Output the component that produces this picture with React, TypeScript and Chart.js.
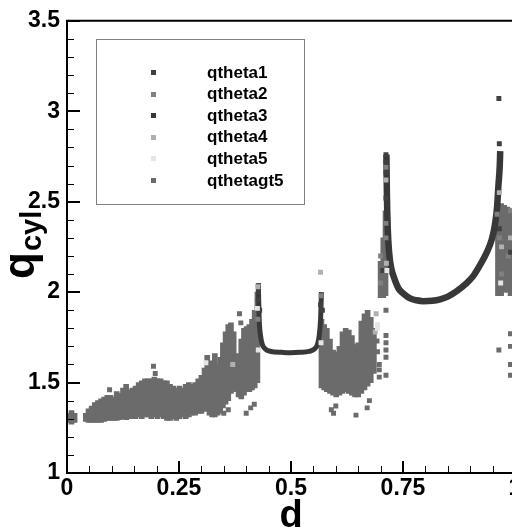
import React, { useEffect, useRef } from "react";
import { Chart, registerables } from "chart.js";

Chart.register(...registerables);

// ---- axis ticks ----
const xMajorTicks = [0, 0.25, 0.5, 0.75, 1];
const xMinorTicks = [0.05, 0.1, 0.15, 0.2, 0.3, 0.35, 0.4, 0.45, 0.55, 0.6, 0.65, 0.7, 0.8, 0.85, 0.9, 0.95];
const yMajorTicks = [1, 1.5, 2, 2.5, 3, 3.5];
const yMinorTicks = [1.1, 1.2, 1.3, 1.4, 1.6, 1.7, 1.8, 1.9, 2.1, 2.2, 2.3, 2.4, 2.6, 2.7, 2.8, 2.9, 3.1, 3.2, 3.3, 3.4];

// ---- legend ----
const seriesNames = ["qtheta1", "qtheta2", "qtheta3", "qtheta4", "qtheta5", "qthetagt5"];
const seriesColors = ["#404040", "#808080", "#383838", "#b0b0b0", "#e6e6e6", "#6b6b6b"];

// ---- qthetagt5 dense cloud envelope (d, lower q, upper q) ----
const cloudD = [
  0.003, 0.010, 0.017,
  0.042, 0.048, 0.055, 0.062, 0.069, 0.076, 0.083, 0.090, 0.097, 0.104, 0.111, 0.118, 0.125, 0.132, 0.139, 0.146,
  0.153, 0.160, 0.167, 0.174, 0.181, 0.188, 0.195, 0.202, 0.209, 0.216, 0.223, 0.230, 0.237, 0.244, 0.251, 0.258,
  0.265, 0.272, 0.279, 0.286, 0.293, 0.300, 0.307, 0.313, 0.318, 0.324, 0.330, 0.336, 0.342, 0.348, 0.354, 0.360,
  0.366, 0.372, 0.378, 0.383, 0.389, 0.395, 0.401, 0.407, 0.413, 0.419, 0.425,
  0.568, 0.574, 0.580, 0.587, 0.594, 0.601, 0.608, 0.615, 0.622, 0.629, 0.636, 0.643, 0.650, 0.657, 0.664, 0.671,
  0.678, 0.685, 0.700, 0.706, 0.711,
  0.962, 0.969, 0.976, 0.983, 0.990, 0.997,
];
const cloudLo = [
  1.28, 1.27, 1.28,
  1.285, 1.28, 1.28, 1.28, 1.28, 1.28, 1.285, 1.29, 1.29, 1.29, 1.29, 1.295, 1.30, 1.295, 1.30, 1.30,
  1.30, 1.31, 1.30, 1.31, 1.31, 1.30, 1.31, 1.30, 1.31, 1.30, 1.29, 1.29, 1.30, 1.29, 1.30, 1.31,
  1.30, 1.31, 1.32, 1.32, 1.33, 1.33, 1.34, 1.36, 1.32, 1.31, 1.31, 1.32, 1.33, 1.36, 1.38, 1.40,
  1.44, 1.46, 1.45, 1.42, 1.41, 1.43, 1.45, 1.45, 1.46, 1.47, 1.50,
  1.47, 1.46, 1.45, 1.44, 1.43, 1.42, 1.43, 1.44, 1.45, 1.44, 1.43, 1.42, 1.42, 1.44, 1.46, 1.48,
  1.50, 1.55, 1.97, 1.97, 1.98,
  1.98, 1.98, 2.00, 2.00, 1.98, 2.00,
];
const cloudHi = [
  1.33, 1.345, 1.33,
  1.33, 1.355, 1.37, 1.39, 1.40, 1.41, 1.42, 1.43, 1.43, 1.42, 1.45, 1.44, 1.47, 1.49, 1.46, 1.47,
  1.48, 1.50, 1.51, 1.52, 1.52, 1.52, 1.53, 1.52, 1.52, 1.51, 1.51, 1.49, 1.48, 1.47, 1.48, 1.47,
  1.49, 1.50, 1.49, 1.50, 1.52, 1.54, 1.58, 1.65, 1.45, 1.62, 1.66, 1.60, 1.64, 1.72, 1.78, 1.82,
  1.83, 1.78, 1.66, 1.52, 1.74, 1.80, 1.81, 1.82, 1.85, 1.90, 2.00,
  1.85, 1.82, 1.80, 1.74, 1.68, 1.67, 1.70, 1.78, 1.80, 1.79, 1.76, 1.71, 1.72, 1.84, 1.88, 1.90,
  1.86, 1.80, 2.17, 2.30, 2.45,
  2.40, 2.49, 2.48, 2.47, 2.46, 2.45,
];

// ---- qthetagt5 scattered points ----
const gt5D = [0.095, 0.193, 0.197, 0.350, 0.360, 0.385, 0.388, 0.400, 0.410, 0.418, 0.590, 0.595, 0.600, 0.645, 0.670, 0.675,
  0.697, 0.712, 0.712, 0.712, 0.712, 0.712, 0.712, 0.964, 0.990, 0.990, 0.990, 0.990, 0.692, 0.693, 0.697, 0.697];
const gt5Q = [1.46, 1.59, 1.55, 1.33, 1.35, 1.88, 1.83, 1.33, 1.36, 1.38, 1.35, 1.33, 1.37, 1.32, 1.36, 1.40,
  1.53, 1.90, 1.76, 1.72, 1.68, 1.64, 1.54, 1.68, 1.77, 1.70, 1.60, 1.54, 1.73, 1.67, 1.60, 1.57];

// ---- qtheta1 points ----
const q1D = [0.964, 0.965, 0.712, 0.712, 0.712, 0.712, 0.427, 0.427, 0.566, 0.570, 0.965, 0.990, 0.705, 0.430];
const q1Q = [3.07, 2.82, 2.76, 2.72, 2.66, 2.52, 2.00, 1.96, 1.93, 1.90, 2.35, 2.22, 2.12, 1.90];

// ---- qtheta2 points ----
const q2D = [0.960, 0.965, 0.970, 0.990, 0.985, 0.712, 0.712, 0.712, 0.426, 0.567, 0.700, 0.700];
const q2Q = [2.43, 2.30, 2.10, 2.45, 2.20, 2.69, 2.38, 2.30, 1.85, 1.98, 2.05, 2.20];

// ---- qtheta3 curves ----
const u1D = [0.427, 0.429, 0.432, 0.436, 0.443, 0.455, 0.480, 0.500, 0.520, 0.540, 0.552, 0.559, 0.563, 0.566, 0.568];
const u1Q = [2.05, 1.85, 1.76, 1.71, 1.685, 1.672, 1.667, 1.665, 1.667, 1.672, 1.685, 1.71, 1.76, 1.85, 2.00];
const u2D = [0.713, 0.714, 0.716, 0.719, 0.724, 0.730, 0.740, 0.752, 0.766, 0.780, 0.795, 0.815, 0.833, 0.850, 0.870,
  0.890, 0.907, 0.922, 0.937, 0.948, 0.955, 0.960, 0.963, 0.966, 0.967];
const u2Q = [2.76, 2.55, 2.35, 2.22, 2.13, 2.08, 2.02, 1.99, 1.965, 1.955, 1.95, 1.952, 1.96, 1.975, 2.005,
  2.045, 2.09, 2.15, 2.22, 2.29, 2.37, 2.47, 2.59, 2.70, 2.78];

// ---- qtheta4 points ----
const q4D = [0.426, 0.566, 0.690, 0.370, 0.712, 0.713, 0.965, 0.970, 0.990, 0.688];
const q4Q = [2.03, 2.11, 1.88, 1.60, 2.62, 2.16, 2.55, 2.25, 2.30, 1.78];

// ---- qtheta5 points ----
const q5D = [0.425, 0.427, 0.567, 0.693, 0.693, 0.714, 0.968, 0.310];
const q5Q = [1.91, 1.68, 1.72, 1.82, 1.80, 2.12, 2.05, 1.61];

const FONT = "'Liberation Sans', Arial, Helvetica, sans-serif";

const pts = (d: number[], q: number[]) => d.map((v, i) => ({ x: v, y: q[i] }));

const decor = {
  id: "decor",
  afterDatasetsDraw(chart: any) {
    const { ctx, chartArea: a, scales } = chart;
    const x = scales.x;
    const y = scales.y;
    ctx.save();
    ctx.strokeStyle = "#000";
    // minor ticks
    ctx.lineWidth = 1;
    ctx.beginPath();
    xMinorTicks.forEach((v) => {
      const px = Math.round(x.getPixelForValue(v)) + 0.5;
      ctx.moveTo(px, a.bottom);
      ctx.lineTo(px, a.bottom - 7);
    });
    yMinorTicks.forEach((v) => {
      const py = Math.round(y.getPixelForValue(v)) + 0.5;
      ctx.moveTo(a.left, py);
      ctx.lineTo(a.left + 7, py);
    });
    ctx.stroke();
    // major ticks
    ctx.lineWidth = 2;
    ctx.beginPath();
    xMajorTicks.forEach((v) => {
      const px = Math.round(x.getPixelForValue(v));
      ctx.moveTo(px, a.bottom);
      ctx.lineTo(px, a.bottom - 12);
    });
    yMajorTicks.forEach((v) => {
      const py = Math.round(y.getPixelForValue(v));
      ctx.moveTo(a.left, py);
      ctx.lineTo(a.left + 13, py);
    });
    ctx.stroke();
    // frame lines
    ctx.lineWidth = 2;
    ctx.beginPath();
    ctx.moveTo(chart.width, a.top);
    ctx.lineTo(a.left, a.top);
    ctx.lineTo(a.left, a.bottom);
    ctx.lineTo(chart.width, a.bottom);
    ctx.stroke();

    // legend box
    ctx.fillStyle = "#fff";
    ctx.fillRect(96, 39, 208, 165);
    ctx.lineWidth = 1;
    ctx.strokeStyle = "#808080";
    ctx.strokeRect(96.5, 39.5, 208, 165);
    ctx.font = `bold 17px ${FONT}`;
    ctx.textBaseline = "middle";
    ctx.textAlign = "left";
    seriesNames.forEach((name, i) => {
      const ry = 72 + i * 21.6;
      ctx.fillStyle = seriesColors[i];
      ctx.fillRect(151, Math.round(ry) - 2, 5, 5);
      ctx.fillStyle = "#000";
      ctx.fillText(name, 207, ry + 1);
    });

    // x title
    ctx.fillStyle = "#000";
    ctx.font = `bold 38px ${FONT}`;
    ctx.textAlign = "center";
    ctx.textBaseline = "alphabetic";
    ctx.fillText("d", x.getPixelForValue(0.5), 527);

    // y title q_cyl
    ctx.save();
    ctx.translate(34, 279);
    ctx.rotate(-Math.PI / 2);
    ctx.textAlign = "left";
    ctx.font = `bold 44px ${FONT}`;
    ctx.fillText("q", 0, 0);
    const w = ctx.measureText("q").width;
    ctx.font = `bold 29px ${FONT}`;
    ctx.fillText("cyl", w + 1, 7);
    ctx.restore();

    ctx.restore();
  },
};

export default function App() {
  const ref = useRef<HTMLCanvasElement>(null);
  useEffect(() => {
    const tickFont = { family: FONT, size: 23, weight: "bold" as const };
    const scatterBase = {
      type: "scatter" as const,
      pointStyle: "rect",
      pointRadius: 3.5,
      pointBorderWidth: 0,
      showLine: false,
      order: 1,
    };
    const chart = new Chart(ref.current as HTMLCanvasElement, {
      type: "scatter",
      data: {
        datasets: [
          {
            ...scatterBase,
            label: seriesNames[4],
            data: pts(q5D, q5Q),
            backgroundColor: seriesColors[4],
            borderColor: seriesColors[4],
            order: 0,
          },
          {
            ...scatterBase,
            label: seriesNames[3],
            data: pts(q4D, q4Q),
            backgroundColor: seriesColors[3],
            borderColor: seriesColors[3],
          },
          {
            ...scatterBase,
            label: seriesNames[0],
            data: pts(q1D, q1Q),
            backgroundColor: seriesColors[0],
            borderColor: seriesColors[0],
          },
          {
            ...scatterBase,
            label: seriesNames[1],
            data: pts(q2D, q2Q),
            backgroundColor: seriesColors[1],
            borderColor: seriesColors[1],
            order: 2,
          },
          {
            ...scatterBase,
            label: seriesNames[5],
            data: pts(gt5D, gt5Q),
            backgroundColor: seriesColors[5],
            borderColor: seriesColors[5],
            order: 3,
          },
          {
            type: "line",
            label: seriesNames[2],
            data: pts(u1D, u1Q),
            borderColor: seriesColors[2],
            borderWidth: 5,
            pointRadius: 0,
            cubicInterpolationMode: "monotone",
            fill: false,
            order: 4,
          } as any,
          {
            type: "line",
            label: seriesNames[2] + " ",
            data: pts(u2D, u2Q),
            borderColor: seriesColors[2],
            borderWidth: 6.5,
            pointRadius: 0,
            cubicInterpolationMode: "monotone",
            fill: false,
            order: 4,
          } as any,
          {
            type: "bar",
            label: seriesNames[5] + " cloud",
            data: cloudD.map((d, i) => ({ x: d, y: [cloudLo[i], cloudHi[i]] })),
            backgroundColor: seriesColors[5],
            borderWidth: 0,
            barThickness: 5,
            order: 10,
          } as any,
        ],
      },
      options: {
        responsive: false,
        animation: false,
        layout: { padding: { left: 0, top: 16, right: 25, bottom: 0 } },
        plugins: {
          legend: { display: false },
          tooltip: { enabled: false },
        },
        scales: {
          x: {
            type: "linear",
            min: 0,
            max: 1,
            offset: false,
            grid: { display: false, drawTicks: false },
            border: { display: false },
            ticks: {
              stepSize: 0.25,
              autoSkip: false,
              maxRotation: 0,
              padding: 2,
              color: "#000",
              font: tickFont,
              callback: (v: any) => String(v),
            },
            afterFit: (s: any) => {
              s.height = 59;
            },
          },
          y: {
            type: "linear",
            min: 1,
            max: 3.5,
            grid: { display: false, drawTicks: false },
            border: { display: false },
            ticks: {
              stepSize: 0.5,
              autoSkip: false,
              padding: 7,
              color: "#000",
              font: tickFont,
              callback: (v: any) => String(v),
            },
            afterFit: (s: any) => {
              s.width = 67;
            },
          },
        },
      } as any,
      plugins: [decor],
    });
    return () => chart.destroy();
  }, []);
  return (
    <div
      style={{
        position: "fixed",
        left: 0,
        top: 0,
        width: 512,
        height: 532,
        overflow: "hidden",
        background: "#fff",
      }}
    >
      <canvas ref={ref} width={540} height={532} style={{ display: "block" }} />
    </div>
  );
}
